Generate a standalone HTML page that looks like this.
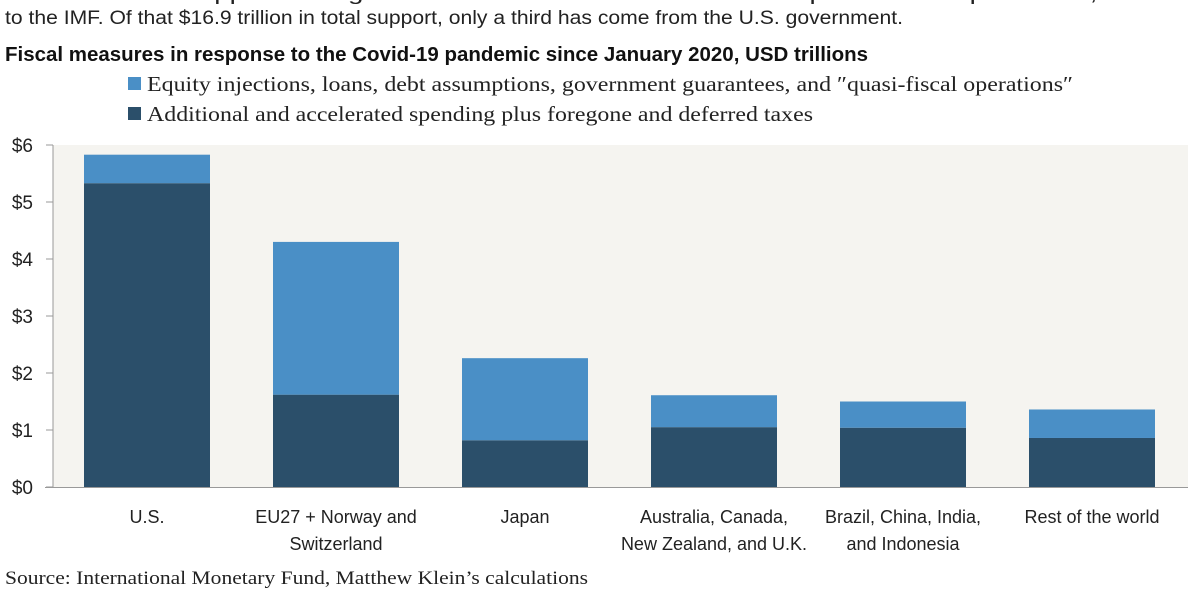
<!DOCTYPE html>
<html><head><meta charset="utf-8"><style>
html,body{margin:0;padding:0;background:#fff;width:1200px;height:600px;overflow:hidden}
svg{display:block}
.sans{font-family:"Liberation Sans",sans-serif}
.serif{font-family:"Liberation Serif",serif}
</style></head><body>
<svg id="chart" width="1200" height="600">
<text class="sans" x="5" y="0" font-size="19" fill="#222" textLength="1220" lengthAdjust="spacingAndGlyphs">trillion in fiscal support from governments and central banks in response to the pandemic, according</text>
<text class="sans" x="5" y="24" font-size="19" fill="#222" textLength="898" lengthAdjust="spacingAndGlyphs">to the IMF. Of that $16.9 trillion in total support, only a third has come from the U.S. government.</text>
<text class="sans" x="5" y="61" font-size="20" font-weight="bold" fill="#111" textLength="863" lengthAdjust="spacingAndGlyphs">Fiscal measures in response to the Covid-19 pandemic since January 2020, USD trillions</text>
<rect x="128" y="77" width="13" height="13" fill="#4a8fc6"/>
<text class="serif" x="147" y="91" font-size="21" fill="#222" textLength="926" lengthAdjust="spacingAndGlyphs">Equity injections, loans, debt assumptions, government guarantees, and ″quasi-fiscal operations″</text>
<rect x="128" y="107" width="13" height="13" fill="#2b4f6a"/>
<text class="serif" x="147" y="121" font-size="21" fill="#222" textLength="666" lengthAdjust="spacingAndGlyphs">Additional and accelerated spending plus foregone and deferred taxes</text>
<rect x="53" y="145" width="1135" height="342" fill="#f5f4f0"/>
<g id="bars"></g>
<g id="yaxis"></g>
<g id="xaxis"></g>
<text class="serif" x="5" y="584" font-size="19" fill="#222" textLength="583" lengthAdjust="spacingAndGlyphs">Source: International Monetary Fund, Matthew Klein’s calculations</text>
</svg>
<script>
const categories = [["U.S."],["EU27 + Norway and","Switzerland"],["Japan"],["Australia, Canada,","New Zealand, and U.K."],["Brazil, China, India,","and Indonesia"],["Rest of the world"]];
const spending = [5.33, 1.62, 0.82, 1.05, 1.04, 0.86];
const equity = [0.50, 2.68, 1.44, 0.56, 0.46, 0.50];
const yTicks = [0,1,2,3,4,5,6];
const yTickLabels = ["$0","$1","$2","$3","$4","$5","$6"];

const NS="http://www.w3.org/2000/svg";
const y0=487, y6=145;
function y(v){return y0-(y0-y6)*v/6;}
function xc(i){return 147+189*i;}
const bw=126;
function mk(tag,attrs,parent){const e=document.createElementNS(NS,tag);for(const k in attrs)e.setAttribute(k,attrs[k]);parent.appendChild(e);return e;}
const bars=document.getElementById('bars');
categories.forEach((c,i)=>{
  const top1=y(spending[i]);
  const r1=mk('rect',{x:xc(i)-bw/2,y:top1,width:bw,height:y0-top1,fill:'#2b4f6a'},bars);
  
  
  const top2=y(spending[i]+equity[i]);
  const r2=mk('rect',{x:xc(i)-bw/2,y:top2,width:bw,height:top1-top2,fill:'#4a8fc6'},bars);
  
  
});
const ya=document.getElementById('yaxis');
const al=mk('line',{x1:53,y1:145,x2:53,y2:487,stroke:'#999','stroke-width':1},ya);


const xl=mk('line',{x1:45,y1:487.5,x2:1188,y2:487.5,stroke:'#999','stroke-width':1},ya);


yTicks.forEach((t,i)=>{
  const tk=mk('line',{x1:46,x2:53,y1:y(t),y2:y(t),stroke:'#999'},ya);
  
  
  const tx=mk('text',{x:33,y:y(t)+7,'text-anchor':'end','font-size':19,fill:'#222','class':'sans'},ya);
  tx.textContent=yTickLabels[i];
  
  
});
const xa=document.getElementById('xaxis');
categories.forEach((c,i)=>{
  c.forEach((line,j)=>{
    const t=mk('text',{x:xc(i),y:523+j*27,'text-anchor':'middle','font-size':18,fill:'#222','class':'sans'},xa);
    t.textContent=line;
    
    
  });
});
</script>
</body></html>
